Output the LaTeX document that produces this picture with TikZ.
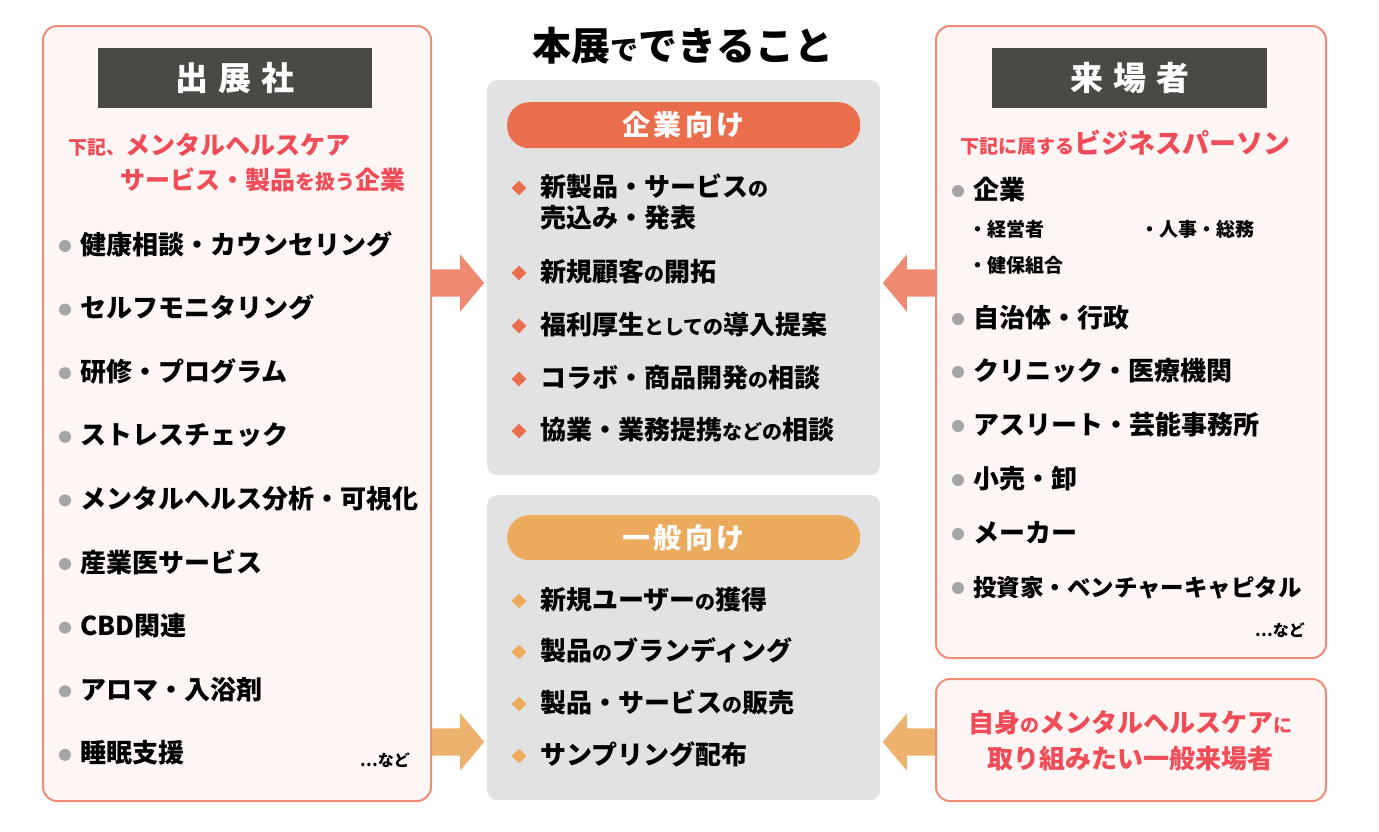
\documentclass[tikz,border=0pt]{standalone}
\usepackage{fontspec}
\IfFontExistsTF{Noto Sans CJK JP Black}
  {\setmainfont{Noto Sans CJK JP}[BoldFont={Noto Sans CJK JP Black}]}
  {\setmainfont{Noto Sans CJK JP}[BoldFont={Noto Sans CJK JP Bold}]}
\usetikzlibrary{shapes.arrows,shapes.geometric,calc}
\definecolor{pborder}{HTML}{EF8C78}
\definecolor{pfill}{HTML}{FDF6F5}
\definecolor{hdr}{HTML}{4B4944}
\definecolor{redt}{HTML}{EF4C58}
\definecolor{bulgray}{HTML}{A5A5A5}
\definecolor{cgray}{HTML}{E2E2E2}
\definecolor{pillA}{HTML}{EB6E4C}
\definecolor{pillB}{HTML}{ECAA5D}
\definecolor{arrA}{HTML}{EF8A72}
\definecolor{arrB}{HTML}{EDB26E}
\newcommand\fs[1]{\fontsize{#1}{#1}\selectfont}
\newcommand\smj[1]{{\fs{20}#1}}
\begin{document}
\begin{tikzpicture}[x=1pt,y=-1pt,
  panel/.style={draw=pborder,line width=2pt,fill=pfill,rounded corners=14pt,anchor=north west,inner sep=0},
  hdrbox/.style={fill=hdr,anchor=north west,inner sep=0},
  hdrtext/.style={text=white,font=\bfseries\fs{33}\addfontfeature{LetterSpace=30}},
  centerbox/.style={fill=cgray,rounded corners=10pt,anchor=north west,inner sep=0},
  pill/.style={rounded corners=22pt,anchor=north west,inner sep=0},
  pilltext/.style={text=white,font=\bfseries\fs{28}\addfontfeature{LetterSpace=12}},
  redline/.style={text=redt,font=\bfseries,anchor=base west,inner sep=0},
  item/.style={font=\bfseries\fs{26},anchor=base west,inner sep=0},
  subitem/.style={font=\bfseries\fs{19},anchor=base west,inner sep=0},
  bul/.style={circle,fill=bulgray,minimum size=12pt,inner sep=0},
  diaA/.style={diamond,fill=pillA,minimum size=15pt,inner sep=0},
  diaB/.style={diamond,fill=pillB,minimum size=15pt,inner sep=0},
  blockarrow/.style={single arrow,inner xsep=0pt,inner ysep=13.5pt,single arrow head extend=15pt,minimum height=52pt,single arrow tip angle=100,anchor=tail}
]
\useasboundingbox[fill=white] (0,0) rectangle (1379,831);

% ---------- left panel ----------
\node[panel,minimum width=388pt,minimum height=775pt] (L) at (42,25) {};
\node[hdrbox,minimum width=274pt,minimum height=60pt] (Lh) at (98,48) {};
\node[hdrtext] (Lht) at (Lh.center) {出展社};
\node[redline] (Lr1) at (68,154) {{\fs{19}下記、}{\fs{25}メンタルヘルスケア}};
\node[redline] (Lr2) at (120,189) {{\fs{25}サービス・製品}{\fs{20}を扱う}{\fs{25}企業}};
\foreach \t [count=\i] in {健康相談・カウンセリング,セルフモニタリング,研修・プログラム,ストレスチェック,メンタルヘルス分析・可視化,産業医サービス,CBD関連,アロマ・入浴剤,睡眠支援}{
  \pgfmathsetmacro\yy{245+63.6*(\i-1)}
  \node[bul] (Lb\i) at (65,\yy+1) {};
  \node[item] (Li\i) at (80,\yy+9) {\t};
}
\node[font=\bfseries\fs{16},anchor=base east,inner sep=0] (Lnado) at (410,766) {…など};

% ---------- title ----------
\node[font=\bfseries,anchor=base,inner sep=0] (title) at (683,60) {{\fs{39}本展}{\fs{28}で}{\fs{39}できること}};

% ---------- center boxes ----------
\node[centerbox,minimum width=393pt,minimum height=395pt] (C1) at (487,80) {};
\node[pill,fill=pillA,minimum width=353pt,minimum height=46pt] (P1) at (507,102) {};
\node[pilltext] (P1t) at (P1.center) {企業向け};
\node[diaA] (d1) at (519,188) {};
\node[item] (c1) at (540,196) {新製品・サービス\smj{の}};
\node[item] (c1b) at (540,227) {売込み・発表};
\node[diaA] (d2) at (519,273) {};
\node[item] (c2) at (540,281) {新規顧客\smj{の}開拓};
\node[diaA] (d3) at (519,326) {};
\node[item] (c3) at (540,334) {福利厚生\smj{としての}導入提案};
\node[diaA] (d4) at (519,379) {};
\node[item] (c4) at (540,387) {コラボ・商品開発\smj{の}相談};
\node[diaA] (d5) at (519,431) {};
\node[item] (c5) at (540,439) {協業・業務提携\smj{などの}相談};

\node[centerbox,minimum width=393pt,minimum height=305pt] (C2) at (487,495) {};
\node[pill,fill=pillB,minimum width=353pt,minimum height=45pt] (P2) at (507,515) {};
\node[pilltext] (P2t) at (P2.center) {一般向け};
\node[diaB] (e1) at (519,601) {};
\node[item] (g1) at (540,609) {新規ユーザー\smj{の}獲得};
\node[diaB] (e2) at (519,652) {};
\node[item] (g2) at (540,660) {製品\smj{の}ブランディング};
\node[diaB] (e3) at (519,704) {};
\node[item] (g3) at (540,712) {製品・サービス\smj{の}販売};
\node[diaB] (e4) at (519,756) {};
\node[item] (g4) at (540,764) {サンプリング配布};

% ---------- right panel ----------
\node[panel,minimum width=390pt,minimum height=632pt] (R) at (935,25) {};
\node[hdrbox,minimum width=275pt,minimum height=60pt] (Rh) at (992,48) {};
\node[hdrtext] (Rht) at (Rh.center) {来場者};
\node[redline] (Rr) at (960,153) {{\fs{19}下記に属する}{\fs{27}ビジネスパーソン}};
\node[bul] (Rb0) at (958,191) {};
\node[item] (Ri0) at (973,199) {企業};
\node[subitem] (Rs1) at (968,236) {・経営者};
\node[subitem] (Rs2) at (1140,236) {・人事・総務};
\node[subitem] (Rs3) at (968,272) {・健保組合};
\foreach \t/\yy [count=\i] in {自治体・行政/318,クリニック・医療機関/371,アスリート・芸能事務所/425,小売・卸/479,メーカー/533}{
  \node[bul] (Rb\i) at (958,\yy+1) {};
  \node[item] (Ri\i) at (973,\yy+9) {\t};
}
\node[bul] (Rb6) at (958,588) {};
\node[item,font=\bfseries\fs{23.5}] (Ri6) at (973,596) {投資家・ベンチャーキャピタル};
\node[font=\bfseries\fs{16},anchor=base east,inner sep=0] (Rnado) at (1305,636) {…など};

\node[panel,minimum width=390pt,minimum height=122pt] (R2) at (935,678) {};
\node[text=redt,font=\bfseries,anchor=base,inner sep=0] (R2a) at (1130,732) {{\fs{26}自身}{\fs{19}の}{\fs{26}メンタルヘルスケア}{\fs{19}に}};
\node[text=redt,font=\bfseries\fs{26},anchor=base,inner sep=0] (R2b) at (1130,768) {取り組みたい一般来場者};

% ---------- arrows ----------
\node[blockarrow,fill=arrA] (a1) at (L.east |- 0,283) {};
\node[blockarrow,fill=arrB] (a2) at (L.east |- 0,742) {};
\node[blockarrow,fill=arrA,shape border rotate=180] (a3) at (R.west |- 0,283) {};
\node[blockarrow,fill=arrB,shape border rotate=180] (a4) at (R2.west |- 0,742) {};
\end{tikzpicture}
\end{document}
